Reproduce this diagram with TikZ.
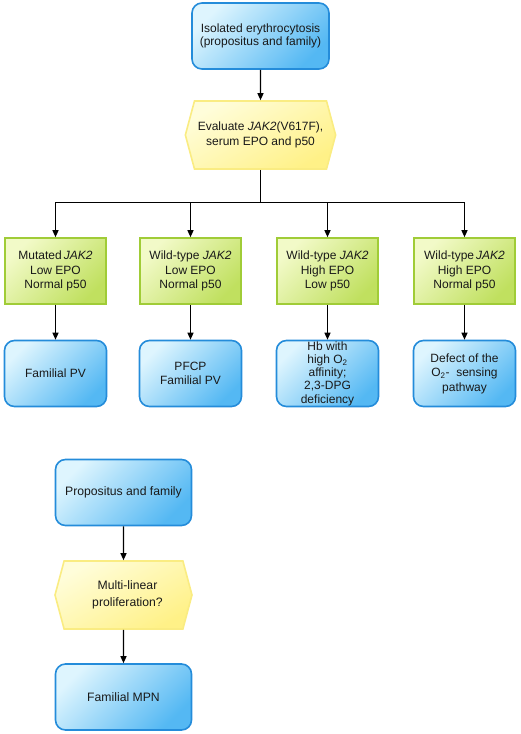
\documentclass[tikz,border=0pt]{standalone}
\usepackage{fontspec}
\setmainfont{Liberation Sans}
\usetikzlibrary{arrows.meta,shapes.symbols,positioning}
\definecolor{bluelight}{RGB}{222,245,254}
\definecolor{bluedark}{RGB}{84,184,243}
\definecolor{blueline}{RGB}{36,140,218}
\definecolor{greenlight}{RGB}{242,250,200}
\definecolor{greendark}{RGB}{192,224,95}
\definecolor{greenline}{RGB}{160,204,55}
\definecolor{yellowlight}{RGB}{255,253,218}
\definecolor{yellowdark}{RGB}{255,241,135}
\definecolor{yellowline}{RGB}{250,236,130}
\definecolor{inktext}{RGB}{25,25,25}
\begin{document}
\begin{tikzpicture}[x=1pt,y=1pt,
  font=\fontsize{12}{14.5}\selectfont, text=inktext,
  bluebox/.style={rectangle,rounded corners=10pt,draw=blueline,line width=1.6pt,
    top color=bluelight,bottom color=bluedark,shading angle=45,
    minimum width=102pt,minimum height=66pt,inner sep=1pt,align=center},
  greenbox/.style={rectangle,draw=greenline,line width=1.6pt,
    top color=greenlight,bottom color=greendark,shading angle=45,
    minimum width=101pt,minimum height=66pt,align=center},
  hexbox/.style={signal,signal to=west and east,signal pointer angle=150,
    draw=yellowline,line width=1.6pt,
    top color=yellowlight,bottom color=yellowdark,shading angle=30,
    minimum width=140pt,minimum height=68pt,align=center},
  arr/.style={-{Triangle[length=7pt,width=6pt]},line width=1.2pt,draw=black}]
\useasboundingbox (0,0) rectangle (520,-734);

% upper chart
\node [bluebox,minimum width=137pt,font=\fontsize{12}{12.8}\selectfont] (iso) at (260.5,-36)
  {Isolated erythrocytosis\\(propositus and family)};
\node [hexbox] (eval) at (260.5,-135) {Evaluate \textit{JAK2}(V617F),\\serum EPO and p50};
\coordinate [below=33pt of eval.south] (split);

\node [greenbox] (mut) at (55.5,-271) {Mutated\,\textit{JAK2}\\Low EPO\\Normal p50};
\node [greenbox] (wtlow) at (190.5,-271) {Wild-type \textit{JAK2}\\Low EPO\\Normal p50};
\node [greenbox] (wthigh) at (327.5,-271) {Wild-type \textit{JAK2}\\High EPO\\Low p50};
\node [greenbox] (wtnorm) at (464.5,-271) {Wild-type\,\textit{JAK2}\\High EPO\\Normal p50};

\node [bluebox] (fpv) at (55.5,-373.5) {Familial PV};
\node [bluebox] (pfcp) at (190.5,-373.5) {PFCP\\Familial PV};
\node [bluebox,font=\fontsize{12}{13.2}\selectfont] (hb) at (327.5,-373.5)
  {Hb with\\high O\textsubscript{2}\\affinity;\\2,3-DPG\\deficiency};
\node [bluebox] (osense) at (464.5,-373.5) {Defect of the\\O\textsubscript{2}-\ \ sensing\\pathway};

\draw [arr] (iso) -- (eval);
\draw [line width=1.2pt,draw=black] (eval.south) -- (split);
\foreach \g in {mut,wtlow,wthigh,wtnorm}
  \draw [arr] (split) -| (\g.north);
\foreach \g/\b in {mut/fpv,wtlow/pfcp,wthigh/hb,wtnorm/osense}
  \draw [arr] (\g) -- (\b);

% lower chart
\node [bluebox,minimum width=136pt,font=\fontsize{12.2}{14}\selectfont] (fam) at (123.5,-492.5) {Propositus and family};
\node [hexbox,minimum width=137pt,font=\fontsize{12.2}{17}\selectfont] (multi) at (123.5,-595)
  {\hspace*{8pt}Multi-linear\\\hspace*{8pt}proliferation?};
\node [bluebox,minimum width=136pt,font=\fontsize{12.2}{14}\selectfont] (mpn) at (123.5,-697) {Familial MPN};

\draw [arr] (fam) -- (multi);
\draw [arr] (multi) -- (mpn);
\end{tikzpicture}
\end{document}
